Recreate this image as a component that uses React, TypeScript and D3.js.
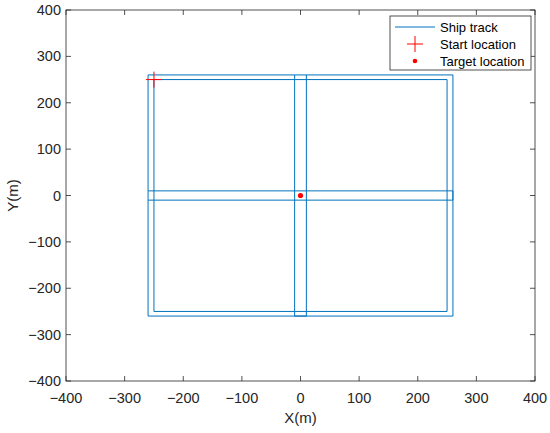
import React from "react";
import * as d3 from "d3";

const xTicks = [-400, -300, -200, -100, 0, 100, 200, 300, 400];
const yTicks = [-400, -300, -200, -100, 0, 100, 200, 300, 400];

// Ship track pieces (x, y in metres)
const innerLoopX = [-250, 250, 250, -250, -250];
const innerLoopY = [250, 250, -250, -250, 250];
const outerLoopX = [-260, 260, 260, -260, -260];
const outerLoopY = [260, 260, -260, -260, 260];
const crossHX = [-260, 260, 260, -260];
const crossHY = [10, 10, -10, -10];
const crossVX = [-10, -10, 10, 10];
const crossVY = [260, -260, -260, 260];

const startLoc = [-250, 250];
const targetLoc = [0, 0];

const legendLabels = ["Ship track", "Start location", "Target location"];

const W = 550;
const H = 433;
const left = 66;
const right = 535;
const top = 10;
const bottom = 381;

const AX = "#262626";
const BLUE = "#0072BD";
const RED = "#FF0000";
const FONT = "'Liberation Sans', Arial, Helvetica, sans-serif";

export default function App() {
  const x = d3.scaleLinear().domain([-400, 400]).range([left, right]);
  const y = d3.scaleLinear().domain([-400, 400]).range([bottom, top]);
  const fmt = d3.format("d");
  const line = d3
    .line<[number, number]>()
    .x((d) => x(d[0]))
    .y((d) => y(d[1]));
  const pieces: [number[], number[]][] = [
    [innerLoopX, innerLoopY],
    [outerLoopX, outerLoopY],
    [crossHX, crossHY],
    [crossVX, crossVY],
  ];
  const tl = 5;
  const sx = x(startLoc[0]);
  const sy = y(startLoc[1]);
  const ms = 8;

  const lgX = 390;
  const lgY = 16;
  const lgW = 141;
  const lgH = 54;
  const rowY = [27, 44, 61];

  return (
    <svg
      width={W}
      height={H}
      style={{ position: "absolute", left: 0, top: 0, background: "#fff" }}
      fontFamily={FONT}
    >
      <rect x={0} y={0} width={W} height={H} fill="#fff" />
      {/* track */}
      {pieces.map(([xs, ys], i) => (
        <path
          key={i}
          d={line(xs.map((v, k) => [v, ys[k]] as [number, number])) || ""}
          fill="none"
          stroke={BLUE}
          strokeWidth={1}
        />
      ))}
      {/* start marker */}
      <g stroke={RED} strokeWidth={1}>
        <line x1={sx - ms} x2={sx + ms} y1={sy} y2={sy} />
        <line x1={sx} x2={sx} y1={sy - ms} y2={sy + ms} />
      </g>
      {/* target */}
      <circle cx={x(targetLoc[0])} cy={y(targetLoc[1])} r={2.6} fill={RED} />

      {/* axes box */}
      <rect
        x={left}
        y={top}
        width={right - left}
        height={bottom - top}
        fill="none"
        stroke={AX}
        strokeWidth={0.8}
      />
      {xTicks.map((t) => (
        <g key={"x" + t}>
          <line x1={x(t)} x2={x(t)} y1={bottom} y2={bottom - tl} stroke={AX} strokeWidth={0.8} />
          <line x1={x(t)} x2={x(t)} y1={top} y2={top + tl} stroke={AX} strokeWidth={0.8} />
          <text x={x(t)} y={bottom + 22} textAnchor="middle" fontSize={14.5} fill={AX}>
            {fmt(t)}
          </text>
        </g>
      ))}
      {yTicks.map((t) => (
        <g key={"y" + t}>
          <line x1={left} x2={left + tl} y1={y(t)} y2={y(t)} stroke={AX} strokeWidth={0.8} />
          <line x1={right} x2={right - tl} y1={y(t)} y2={y(t)} stroke={AX} strokeWidth={0.8} />
          <text x={left - 5} y={y(t) + 5} textAnchor="end" fontSize={14.5} fill={AX}>
            {fmt(t)}
          </text>
        </g>
      ))}
      <text x={(left + right) / 2} y={423} textAnchor="middle" fontSize={15} fill={AX}>
        X(m)
      </text>
      <text
        transform={`translate(18,${(top + bottom) / 2}) rotate(-90)`}
        textAnchor="middle"
        fontSize={15}
        fill={AX}
      >
        Y(m)
      </text>

      {/* legend */}
      <rect x={lgX} y={lgY} width={lgW} height={lgH} fill="#fff" stroke={AX} strokeWidth={0.8} />
      <line x1={395} x2={435} y1={rowY[0]} y2={rowY[0]} stroke={BLUE} strokeWidth={1} />
      <g stroke={RED} strokeWidth={1}>
        <line x1={415 - ms} x2={415 + ms} y1={rowY[1]} y2={rowY[1]} />
        <line x1={415} x2={415} y1={rowY[1] - ms} y2={rowY[1] + ms} />
      </g>
      <circle cx={415} cy={rowY[2]} r={2.3} fill={RED} />
      {legendLabels.map((l, i) => (
        <text key={l} x={440} y={rowY[i] + 4.5} fontSize={13} fill="#000">
          {l}
        </text>
      ))}
    </svg>
  );
}
